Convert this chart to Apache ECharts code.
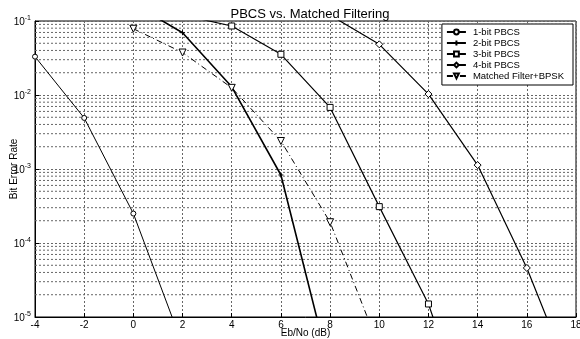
<!DOCTYPE html>
<html>
<head>
<meta charset="utf-8">
<script src="https://cdn.jsdelivr.net/npm/echarts@6/dist/echarts.min.js"></script>
<style>
html,body{margin:0;padding:0;background:#fff;}
#c{width:580px;height:339px;}
</style>
</head>
<body>
<div id="c"></div>
<script>
// ---- data ----
var title = 'PBCS vs. Matched Filtering';
var xName = 'Eb/No (dB)';
var yName = 'Bit Error Rate';
var seriesNames = ['1-bit PBCS', '2-bit PBCS', '3-bit PBCS', '4-bit PBCS', 'Matched Filter+BPSK'];

var oneBitX = [-4, -2, 0, 2];
var oneBitY = [0.033, 0.0049, 2.5e-4, 4.2e-6];

var twoBitX = [0, 2, 4, 6, 8];
var twoBitY = [0.17, 0.0695, 0.0129, 8.3e-4, 1.9e-6];

var threeBitX = [2, 4, 6, 8, 10, 12, 14];
var threeBitY = [0.12, 0.0856, 0.0355, 0.0068, 3.1e-4, 1.5e-5, 1.7e-7];

var fourBitX = [8, 10, 12, 14, 16, 18];
var fourBitY = [0.12, 0.0484, 0.0103, 1.13e-3, 4.6e-5, 1e-6];

var matchedX = [0, 2, 4, 6, 8, 10];
var matchedY = [0.0786, 0.0375, 0.0125, 0.00239, 1.91e-4, 3.87e-6];

var xMin = -4, xMax = 18, xStep = 2;
var yDecades = [-5, -4, -3, -2, -1];
var minorMultipliers = [2, 3, 4, 5, 6, 7, 8, 9];

function pairs(xs, ys) { return xs.map(function (x, i) { return [x, ys[i]]; }); }

// minor log gridlines (MATLAB style 2..9 within each decade), drawn as a gapped line series
var minorGrid = [];
for (var d = 0; d < yDecades.length - 1; d++) {
  for (var m = 0; m < minorMultipliers.length; m++) {
    var v = minorMultipliers[m] * Math.pow(10, yDecades[d]);
    minorGrid.push([xMin, v], [xMax, v], [xMax, '-']);
  }
}

var FONT = '"Liberation Sans", Arial, Helvetica, sans-serif';
var gridStyle = { color: '#666', width: 1, type: [2, 2] };

var chart = echarts.init(document.getElementById('c'), null, { renderer: 'canvas' });

var base = {
  type: 'line',
  smooth: false,
  clip: true,
  showAllSymbol: true,
  lineStyle: { color: '#000', width: 1 },
  itemStyle: { color: '#fff', borderColor: '#000', borderWidth: 1 },
  emphasis: { disabled: true },
  z: 3
};
function mk(o) { return Object.assign({}, base, o); }

chart.setOption({
  backgroundColor: '#fff',
  animation: false,
  textStyle: { fontFamily: FONT },
  title: {
    text: title,
    left: 305, textAlign: 'center',
    top: 3,
    textStyle: { fontFamily: FONT, fontSize: 13, fontWeight: 'normal', color: '#000' }
  },
  legend: {
    orient: 'vertical',
    right: 7, top: 24,
    backgroundColor: '#fff',
    borderColor: '#000', borderWidth: 1,
    padding: [3, 9, 4, 4],
    itemGap: 1,
    itemWidth: 19, itemHeight: 6,
    textStyle: { fontFamily: FONT, fontSize: 9.5, color: '#000', lineHeight: 10, padding: [0, 0, 0, 2] },
    data: seriesNames
  },
  grid: {
    left: 35, right: 4, top: 21, bottom: 22,
    containLabel: false, outerBoundsMode: 'none',
    show: true, borderColor: '#000', borderWidth: 1, backgroundColor: '#fff'
  },
  xAxis: {
    type: 'value',
    min: xMin, max: xMax, interval: xStep,
    name: xName, nameLocation: 'middle', nameGap: 11, nameMoveOverlap: false,
    nameTextStyle: { fontFamily: FONT, fontSize: 10, color: '#000' },
    axisLine: { show: true, onZero: false, lineStyle: { color: '#000' } },
    axisTick: { show: true, inside: true, length: 4, lineStyle: { color: '#000' } },
    axisLabel: { fontFamily: FONT, fontSize: 10, color: '#000', margin: 3, showMaxLabel: true, showMinLabel: true },
    splitLine: { show: true, lineStyle: gridStyle }
  },
  yAxis: {
    type: 'log', logBase: 10,
    min: 1e-5, max: 1e-1,
    name: yName, nameLocation: 'middle', nameGap: 16, nameRotate: 90, nameMoveOverlap: false,
    nameTextStyle: { fontFamily: FONT, fontSize: 10, color: '#000' },
    axisLine: { show: true, onZero: false, lineStyle: { color: '#000' } },
    axisTick: { show: true, inside: true, length: 4, lineStyle: { color: '#000' } },
    axisLabel: {
      margin: 4, color: '#000',
      formatter: function (v) {
        var e = Math.round(Math.log10(v));
        return '{b|10}{s|' + e + '}';
      },
      rich: {
        b: { fontFamily: FONT, fontSize: 10, color: '#000', verticalAlign: 'bottom' },
        s: { fontFamily: FONT, fontSize: 7, color: '#000', verticalAlign: 'bottom', padding: [0, 0, 6, 0] }
      }
    },
    splitLine: { show: true, lineStyle: gridStyle }
  },
  series: [
    { name: 'minorGrid', type: 'line', data: minorGrid, symbol: 'none', silent: true,
      connectNulls: false, lineStyle: gridStyle, z: 1, emphasis: { disabled: true }, tooltip: { show: false } },
    mk({ name: seriesNames[0], data: pairs(oneBitX, oneBitY), symbol: 'circle', symbolSize: 5 }),
    mk({ name: seriesNames[1], data: pairs(twoBitX, twoBitY),
      symbol: 'path://M5,0 L5,10 M0,5 L10,5', symbolSize: 5,
      itemStyle: { color: '#000', borderColor: '#000', borderWidth: 1 },
      lineStyle: { color: '#000', width: 1.6 } }),
    mk({ name: seriesNames[2], data: pairs(threeBitX, threeBitY), symbol: 'rect', symbolSize: 6,
      lineStyle: { color: '#000', width: 1.2 } }),
    mk({ name: seriesNames[3], data: pairs(fourBitX, fourBitY), symbol: 'diamond', symbolSize: 7,
      lineStyle: { color: '#000', width: 1.2 } }),
    mk({ name: seriesNames[4], data: pairs(matchedX, matchedY), symbol: 'triangle', symbolRotate: 180, symbolSize: 7,
      lineStyle: { color: '#000', width: 1, type: [6, 3, 1, 3] } })
  ]
});
</script>
</body>
</html>
